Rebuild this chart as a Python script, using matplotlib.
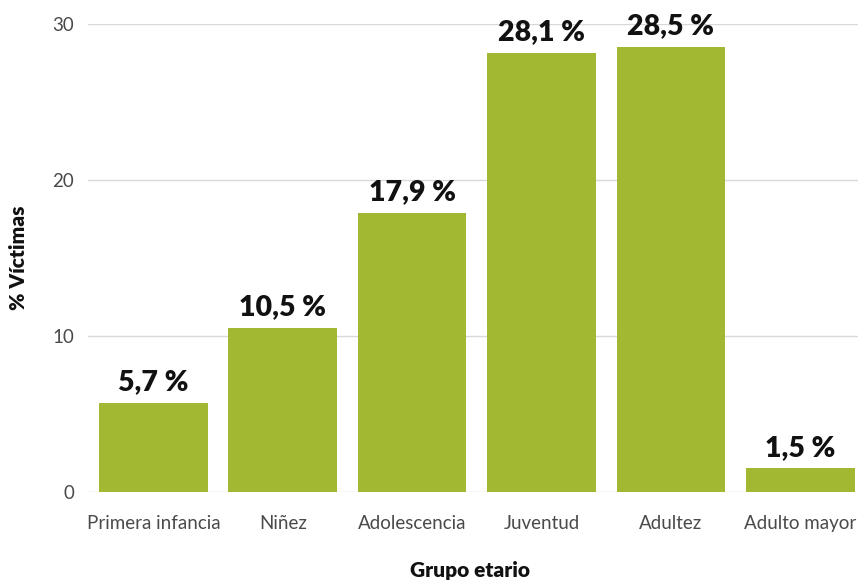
import matplotlib.pyplot as plt

grupos = ['Primera infancia', 'Niñez', 'Adolescencia', 'Juventud', 'Adultez', 'Adulto mayor']
porcentajes = [5.7, 10.5, 17.9, 28.1, 28.5, 1.5]
etiquetas = ['5,7 %', '10,5 %', '17,9 %', '28,1 %', '28,5 %', '1,5 %']
yticks = [0, 10, 20, 30]

plt.rcParams['font.family'] = ['Lato', 'DejaVu Sans']

fig = plt.figure(figsize=(8.62, 5.8), dpi=100)
ax = fig.add_axes([0.102, 0.152, 0.893, 0.807])

x = range(len(grupos))
bars = ax.bar(x, porcentajes, width=0.84, color='#A2B833', zorder=3)

for b, lab in zip(bars, etiquetas):
    ax.text(b.get_x() + b.get_width() / 2, b.get_height() + 0.5, lab,
            ha='center', va='bottom', fontsize=20.5, fontweight='heavy',
            color='#111111', clip_on=False, zorder=4)

ax.set_xlim(-0.506, 5.444)
ax.set_ylim(0, 30)
ax.set_yticks(yticks)
ax.set_xticks(list(x))
ax.set_xticklabels(grupos)
ax.tick_params(axis='both', length=0, labelsize=13.5, colors='#4a4a4a')
ax.tick_params(axis='x', pad=17)
ax.tick_params(axis='y', pad=10)
ax.grid(axis='y', color='#d9d9d9', linewidth=1, zorder=0)
for s in ax.spines.values():
    s.set_visible(False)

fig.text(0.021, 0.555, '% Víctimas', rotation=90, ha='center', va='center',
         fontsize=15, fontweight='heavy', color='#111111')
fig.text(0.545, 0.017, 'Grupo etario', ha='center', va='center',
         fontsize=15, fontweight='heavy', color='#111111')

fig.savefig('out.png', dpi=100)
